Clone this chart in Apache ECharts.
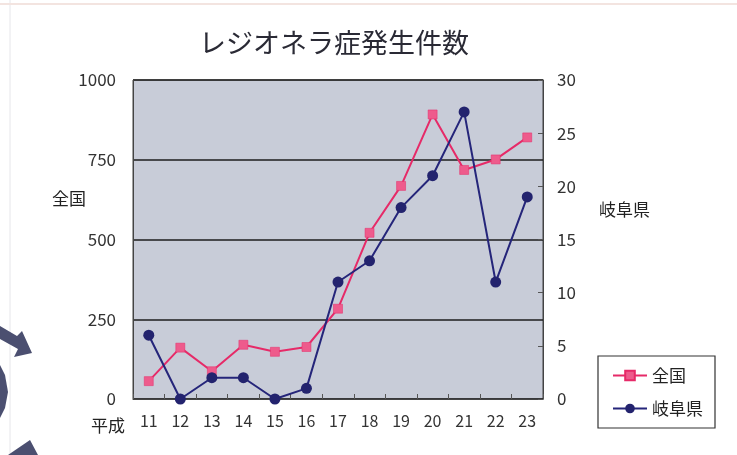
<!DOCTYPE html>
<html>
<head>
<meta charset="utf-8">
<script src="https://cdn.jsdelivr.net/npm/echarts@6/dist/echarts.min.js"></script>
<style>
html,body{margin:0;padding:0;background:#fff;}
#c{width:737px;height:455px;}
</style>
</head>
<body>
<div id="c"></div>
<script>
var categories = ['11','12','13','14','15','16','17','18','19','20','21','22','23'];
var zenkoku = [56,161,87,170,148,163,283,521,668,892,718,751,820];
var gifu = [6,0,2,2,0,1,11,13,18,21,27,11,19];
var leftTicks = [0,1000,250];
var rightTicks = [0,30,5];

var FONT = '"Noto Sans CJK JP", "Noto Sans", sans-serif';
var chart = echarts.init(document.getElementById('c'), null, {renderer:'canvas'});
chart.setOption({
  backgroundColor:'#ffffff',
  animation:false,
  title:{
    text:'レジオネラ症発生件数',
    left:329, top:24, textAlign:'center',
    textStyle:{fontFamily:FONT,fontSize:27,fontWeight:'normal',color:'#2a2a35'}
  },
  grid:{left:133,right:194,top:80,bottom:56,show:true,backgroundColor:'#c8ccd8',borderColor:'#444',borderWidth:1},
  legend:{
    orient:'vertical', left:598, top:356,
    data:['全国','岐阜県'],
    borderColor:'#333', borderWidth:1.2, padding:[11,12,11,14],
    itemGap:16, itemWidth:34, itemHeight:12,
    textStyle:{fontFamily:FONT,fontSize:17,color:'#222'}
  },
  xAxis:{
    type:'category', data:categories, boundaryGap:true,
    axisLine:{show:true,lineStyle:{color:'#444',width:1}},
    axisTick:{show:true,inside:true,length:5,lineStyle:{color:'#555'}},
    axisLabel:{fontFamily:FONT,fontSize:16,color:'#333',margin:14},
    splitLine:{show:false}
  },
  yAxis:[{
    type:'value', min:leftTicks[0], max:leftTicks[1], interval:leftTicks[2],
    axisLine:{show:true,lineStyle:{color:'#444'}},
    axisTick:{show:false},
    axisLabel:{fontFamily:FONT,fontSize:17,color:'#333',margin:17,formatter:function(v){return String(v);}},
    splitLine:{show:true,lineStyle:{color:'#1e1e1e',width:1.6}}
  },{
    type:'value', min:rightTicks[0], max:rightTicks[1], interval:rightTicks[2],
    axisLine:{show:true,lineStyle:{color:'#444'}},
    axisTick:{show:true,inside:true,length:5,lineStyle:{color:'#555'}},
    axisLabel:{fontFamily:FONT,fontSize:17,color:'#333',margin:14,formatter:function(v){return String(v);}},
    splitLine:{show:false}
  }],
  series:[{
    name:'全国', type:'line', yAxisIndex:0, data:zenkoku,
    symbol:'rect', symbolSize:9, showAllSymbol:true,
    lineStyle:{color:'#e62a68',width:2},
    itemStyle:{color:'#ee5b8c',borderColor:'#e62a68',borderWidth:0.5},
    z:3
  },{
    name:'岐阜県', type:'line', yAxisIndex:1, data:gifu,
    symbol:'circle', symbolSize:11, showAllSymbol:true,
    lineStyle:{color:'#25257a',width:2},
    itemStyle:{color:'#23236e'},
    z:4
  }],
  graphic:[
    {type:'text',left:52,top:190,style:{text:'全国',font:'17px '+FONT,fill:'#222'}},
    {type:'text',left:599,top:201,style:{text:'岐阜県',font:'17px '+FONT,fill:'#222'}},
    {type:'text',left:91,top:417,style:{text:'平成',font:'17px '+FONT,fill:'#222'}},
    {type:'line',shape:{x1:10,y1:0,x2:10,y2:455},style:{stroke:'#e6e6ea',lineWidth:1}},
    {type:'line',shape:{x1:0,y1:4,x2:737,y2:4},style:{stroke:'#f3e4e0',lineWidth:2}},
    {type:'polygon',shape:{points:[[0,326],[17,336],[22,331],[32,353],[14,357],[18,349],[0,339]]},style:{fill:'#4b4f70'}},
    {type:'polygon',shape:{points:[[0,365],[5,375],[8,392],[5,408],[0,418]]},style:{fill:'#4b4f70'}},
    {type:'polygon',shape:{points:[[8,455],[30,440],[38,455]]},style:{fill:'#4b4f70'}}
  ]
});
</script>
</body>
</html>
